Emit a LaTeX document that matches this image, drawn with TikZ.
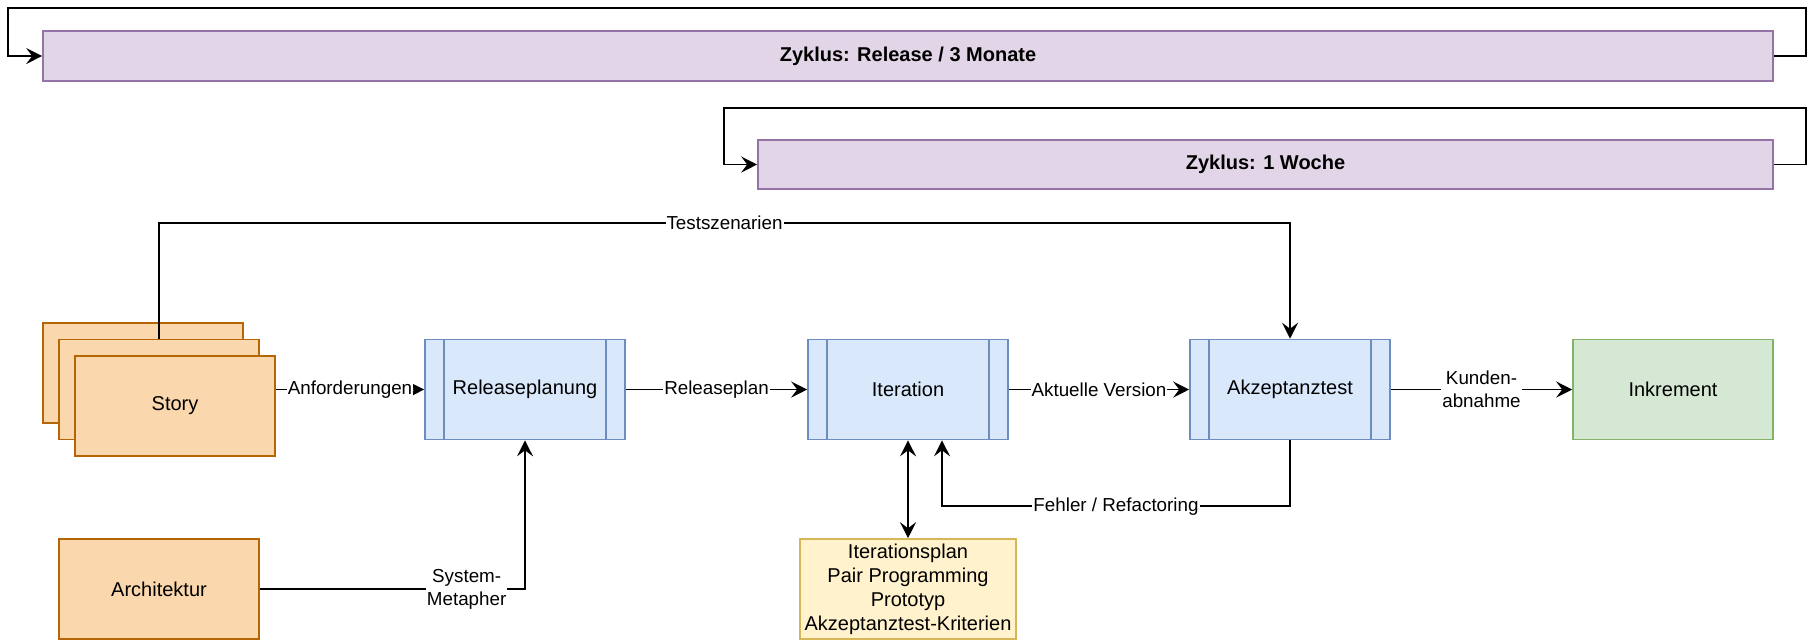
\documentclass[tikz,border=0pt]{standalone}
\usepackage{fontspec}
\setmainfont{Liberation Sans}
\usetikzlibrary{arrows.meta}
\definecolor{orangefill}{HTML}{FAD7AC}
\definecolor{orangeline}{HTML}{B46504}
\definecolor{bluefill}{HTML}{DAE8FC}
\definecolor{blueline}{HTML}{6C8EBF}
\definecolor{greenfill}{HTML}{D5E8D4}
\definecolor{greenline}{HTML}{82B366}
\definecolor{purplefill}{HTML}{E1D5E7}
\definecolor{purpleline}{HTML}{9673A6}
\definecolor{yellowfill}{HTML}{FFF2CC}
\definecolor{yellowline}{HTML}{D6B656}
\begin{document}
\begin{tikzpicture}[x = 0.5pt, y = -0.5pt,
    box/.style = {draw, line width=0.8pt, inner sep=0pt, minimum width=100pt,
        minimum height=50pt, align=center, font=\fontsize{10}{12}\selectfont},
    storybox/.style = {box, draw=orangeline, fill=orangefill},
    procbox/.style = {box, draw=blueline, fill=bluefill},
    cycbox/.style = {box, draw=purpleline, fill=purplefill,
        font=\fontsize{10}{12}\selectfont\bfseries},
    flow/.style = {line width=0.9pt, -{Stealth[length=8pt, width=8pt, inset=3pt]}},
    biflow/.style = {line width=0.9pt,
        {Stealth[length=8pt, width=8pt, inset=3pt]}-{Stealth[length=8pt, width=8pt, inset=3pt]}},
    lbl/.style = {fill=white, inner sep=0.5pt, align=center,
        font=\fontsize{9.4}{11.5}\selectfont}]
    \useasboundingbox (0,0) rectangle (1814,639);
    % cycles
    \node[cycbox, minimum width=865pt, minimum height=25pt] (release) at (908,56)
        {Zyklus: Release / 3 Monate};
    \node[cycbox, minimum width=507.5pt, minimum height=24.5pt] (woche) at (1265.5,164.5)
        {Zyklus: 1 Woche};
    \coordinate (top1) at (8,8);
    \coordinate (top2) at (724,108);
    \draw[flow] (release.east) -- ++(32,0) |- (top1) |- (release.west);
    \draw[flow] (woche.east) -- ++(32,0) |- (top2) |- (woche.west);
    % story stack
    \node[storybox] (story3) at (143,373) {};
    \node[storybox] (story2) at (159,389.5) {};
    \node[storybox] (story) at (175,406) {Story};
    \node[storybox] (arch) at (159,589) {Architektur};
    % process
    \node[procbox] (rel) at (525,389.5) {Releaseplanung};
    \node[procbox] (it) at (908,389.5) {Iteration};
    \node[procbox] (akz) at (1290,389.5) {Akzeptanztest};
    \node[box, draw=greenline, fill=greenfill] (inc) at (1673,389.5) {Inkrement};
    \node[box, draw=yellowline, fill=yellowfill, minimum width=108pt] (plan) at (908,589)
        {Iterationsplan\\Pair Programming\\Prototyp\\Akzeptanztest-Kriterien};
    \foreach \p in {rel, it, akz}
        \draw[blueline, line width=0.8pt]
        ([xshift=10pt]\p.north west) -- ([xshift=10pt]\p.south west)
        ([xshift=-10pt]\p.north east) -- ([xshift=-10pt]\p.south east);
    % connectors
    \draw[flow] (story2.north) -- ++(0,-116) -| node[lbl, pos=0.25] {Testszenarien} (akz.north);
    \draw[flow] (story.east |- rel.west) -- node[lbl] {Anforderungen} (rel.west);
    \draw[flow] (rel) -- node[lbl] {Releaseplan} (it);
    \draw[flow] (it) -- node[lbl] {Aktuelle Version} (akz);
    \draw[flow] (akz) -- node[lbl] {Kunden-\\abnahme} (inc);
    \draw[flow] (akz.south) -- ++(0,66) -| node[lbl, pos=0.25] {Fehler / Refactoring}
        ([xshift=17pt]it.south);
    \draw[biflow] (it.south) -- (plan.north);
    \draw[flow] (arch.east) -| node[lbl, pos=0.39] {System-\\Metapher} (rel.south);
\end{tikzpicture}
\end{document}
